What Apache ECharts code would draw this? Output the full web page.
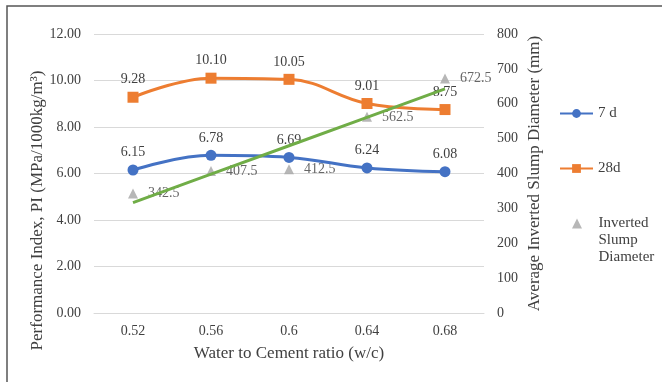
<!DOCTYPE html>
<html><head><meta charset="utf-8">
<script src="https://cdn.jsdelivr.net/npm/echarts@6/dist/echarts.min.js"></script>
<style>html,body{margin:0;padding:0;background:#fff}#c{width:662px;height:382px}</style>
</head><body><div id="c"></div>
<script>
const categories = ['0.52', '0.56', '0.6', '0.64', '0.68'];
const pi7d = [6.15, 6.78, 6.69, 6.24, 6.08];
const pi28d = [9.28, 10.10, 10.05, 9.01, 8.75];
const slump = [342.5, 407.5, 412.5, 562.5, 672.5];
const slumpTrend = [316.5, 398, 479.5, 561, 642.5];
const leftTicks = [0, 2, 4, 6, 8, 10, 12];
const rightTicks = [0, 100, 200, 300, 400, 500, 600, 700, 800];

const FONT = 'Liberation Serif';
const TXT = '#404040';
const TRI = 'path://M0,10 L5,0 L10,10 Z';
const chart = echarts.init(document.getElementById('c'), null, {renderer: 'canvas'});
chart.setOption({
  animation: false,
  textStyle: {fontFamily: FONT, color: TXT},
  graphic: [{type: 'rect', shape: {x: 7, y: 6, width: 720, height: 420}, style: {fill: 'none', stroke: '#555', lineWidth: 1.5}, silent: true}],
  grid: {left: 94, right: 178, top: 34, bottom: 69, containLabel: false},
  legend: [{
    orient: 'vertical', left: 554, top: 101, itemGap: 40, itemWidth: 33, itemHeight: 11,
    data: ['7 d', '28d'],
    textStyle: {fontFamily: FONT, fontSize: 15, color: TXT},
    selectedMode: false
  }, {
    orient: 'vertical', left: 567, top: 176, itemWidth: 33, itemHeight: 10, symbolKeepAspect: true,
    data: [{name: 'Inverted Slump Diameter', icon: TRI}],
    formatter: () => ' \n \nInverted\nSlump\nDiameter',
    textStyle: {fontFamily: FONT, fontSize: 15, color: TXT, lineHeight: 17},
    selectedMode: false
  }],
  xAxis: {
    type: 'category', data: categories, boundaryGap: true,
    axisLine: {show: true, lineStyle: {color: '#D9D9D9'}}, axisTick: {show: false},
    axisLabel: {fontFamily: FONT, fontSize: 14, color: TXT, margin: 11},
    name: 'Water to Cement ratio (w/c)', nameLocation: 'middle', nameGap: 32, nameMoveOverlap: false,
    nameTextStyle: {fontFamily: FONT, fontSize: 17, color: TXT}
  },
  yAxis: [{
    type: 'value', min: leftTicks[0], max: leftTicks[leftTicks.length - 1], interval: leftTicks[1] - leftTicks[0],
    axisLine: {show: false}, axisTick: {show: false},
    splitLine: {lineStyle: {color: '#D9D9D9', width: 1}},
    axisLabel: {fontFamily: FONT, fontSize: 14, color: TXT, margin: 13, formatter: v => v.toFixed(2)},
    name: 'Performance Index, PI (MPa/1000kg/m³)', nameLocation: 'middle', nameGap: 48, nameRotate: 90, nameMoveOverlap: false,
    nameTextStyle: {fontFamily: FONT, fontSize: 17, color: TXT, padding: [0, 74, 0, 0]}
  }, {
    type: 'value', min: rightTicks[0], max: rightTicks[rightTicks.length - 1], interval: rightTicks[1] - rightTicks[0],
    axisLine: {show: false}, axisTick: {show: false}, splitLine: {show: false},
    axisLabel: {fontFamily: FONT, fontSize: 14, color: TXT, margin: 13},
    name: 'Average Inverted Slump Diameter (mm)', nameLocation: 'middle', nameGap: 42, nameRotate: 90, nameMoveOverlap: false,
    nameTextStyle: {fontFamily: FONT, fontSize: 17, color: TXT}
  }],
  series: [{
    name: '7 d', type: 'line', data: pi7d, smooth: 0.4, yAxisIndex: 0,
    symbol: 'circle', symbolSize: 11, color: '#4472C4', lineStyle: {width: 3},
    label: {show: true, position: 'top', distance: 5, formatter: p => p.value.toFixed(2), fontFamily: FONT, fontSize: 14, color: TXT}
  }, {
    name: '28d', type: 'line', data: pi28d, smooth: 0.4, yAxisIndex: 0,
    symbol: 'rect', symbolSize: 11, color: '#ED7D31', lineStyle: {width: 3},
    label: {show: true, position: 'top', distance: 5, formatter: p => p.value.toFixed(2), fontFamily: FONT, fontSize: 14, color: TXT}
  }, {
    name: 'Inverted Slump Diameter', type: 'scatter', data: slump, yAxisIndex: 1,
    symbol: TRI, symbolSize: 10, color: '#A5A5A5',
    label: {show: true, position: 'right', distance: 10, formatter: p => p.value.toFixed(1), fontFamily: FONT, fontSize: 14, color: TXT}
  }, {
    name: 'trend', type: 'line', data: slumpTrend, yAxisIndex: 1, symbol: 'none',
    color: '#70AD47', lineStyle: {width: 3}, z: 5
  }]
});
</script></body></html>
